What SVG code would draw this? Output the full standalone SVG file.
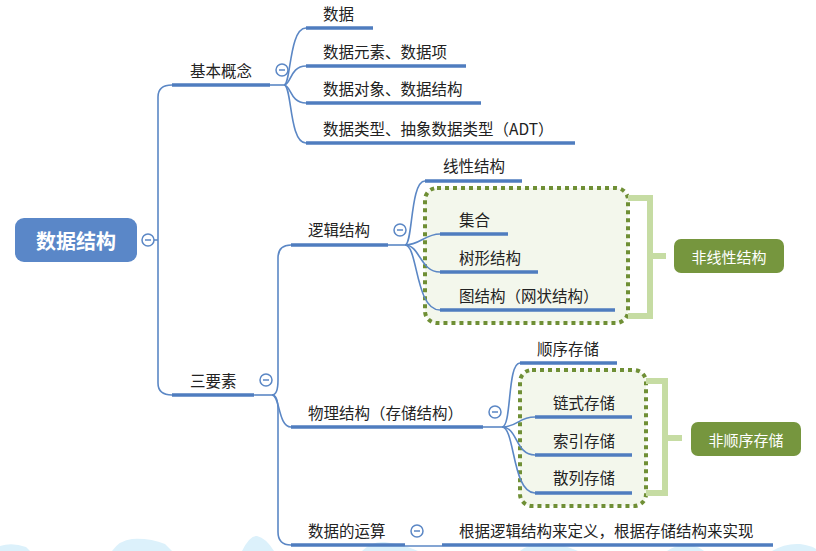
<svg xmlns="http://www.w3.org/2000/svg" width="816" height="551" viewBox="0 0 816 551">
<style>
text{font-family:"Noto Sans CJK SC","Noto Sans",sans-serif;font-size:15.5px;fill:#222;dominant-baseline:central}
.ul{stroke:#4f7dbf;stroke-width:3.5;fill:none}
.cn{stroke:#5b87c5;stroke-width:1.6;fill:none}
.tog circle{fill:#fff;stroke:#5b87c5;stroke-width:1.5}
.tog line{stroke:#5b87c5;stroke-width:1.5}
.box{fill:#f3f7ec;stroke:#6f8f35;stroke-width:4;stroke-dasharray:4 4}
.br{stroke:#c6dca3;stroke-width:6;fill:none}
.gn{fill:#76963e}
.gt{fill:#fff;font-size:15px}
.cloud{fill:#dcf1fb}
</style>
<defs>
<g id="tg" class="tog"><circle r="6"/><line x1="-3" y1="0" x2="3" y2="0"/></g>
</defs>

<g id="watermark">
<path class="cloud" d="M0,551 L0,546 Q12,542 26,547 L30,551Z"/>
<path class="cloud" d="M112,551 Q120,540 132,539 Q150,538 165,544 L172,551Z"/>
<path class="cloud" d="M242,551 Q250,535 257,536 Q266,538 274,551Z"/>
<path class="cloud" d="M362,551 Q372,541 385,542 Q405,545 418,551Z"/>
<path class="cloud" d="M520,551 Q530,543 548,543 Q565,545 578,551Z"/>
<path class="cloud" d="M667,551 Q676,544 690,545 Q700,547 704,551Z"/>
<path class="cloud" d="M772,551 Q785,543 800,544 Q812,546 816,549 L816,551Z"/>
</g>

<g id="groups">
<g id="box-logic"><rect class="box" x="425" y="188" width="203" height="135" rx="12"/></g>
<g id="box-phys"><rect class="box" x="520" y="370" width="126" height="136" rx="12"/></g>
<g id="bracket-logic"><path class="br" d="M628,198 L650,198 L650,316 L628,316 M650,256 L666,256"/></g>
<g id="bracket-phys"><path class="br" d="M646,381 L665,381 L665,493 L646,493 M665,438 L682,438"/></g>
</g>

<g id="connectors">
<path class="cn" d="M154,240 L158,240 M158,240 L158,97 Q158,85 172,85 M158,240 L158,383 Q158,395 172,395"/>
<path class="cn" d="M270,85 L284,85"/>
<path class="cn" d="M284,85 C291,85 289,28 306,28"/>
<path class="cn" d="M284,85 C291,85 290,66 306,66"/>
<path class="cn" d="M284,85 C291,85 290,103 306,103"/>
<path class="cn" d="M284,85 C292,85 289,143 306,143"/>
<path class="cn" d="M254,395 L272,395"/>
<path class="cn" d="M272,395 Q278,395 278,380 L278,258 Q278,245 291,245"/>
<path class="cn" d="M272,395 C280,395 278,427 291,427"/>
<path class="cn" d="M272,395 Q278,395 278,410 L278,532 Q278,545 291,545"/>
<path class="cn" d="M388,245 L405,245"/>
<path class="cn" d="M405,245 C413,245 410,181 425,181"/>
<path class="cn" d="M405,245 C420,245 425,234 440,234"/>
<path class="cn" d="M405,245 C420,245 420,272 440,272"/>
<path class="cn" d="M405,245 C418,245 415,310 440,310"/>
<path class="cn" d="M483,427 L502,427"/>
<path class="cn" d="M502,427 C512,427 507,363 520,363"/>
<path class="cn" d="M502,427 C518,427 518,417 535,417"/>
<path class="cn" d="M502,427 C518,427 515,455 535,455"/>
<path class="cn" d="M502,427 C515,427 512,493 535,493"/>
<path class="cn" d="M405,546 L442,546"/>
</g>

<g id="root">
<rect x="15" y="218" width="122" height="44" rx="9" fill="#5a87c8"/>
<text x="76" y="240" text-anchor="middle" style="fill:#fff;font-size:20px;font-weight:bold">数据结构</text>
<use href="#tg" x="148" y="240"/>
</g>

<g id="n-jbgn">
<path class="ul" d="M172,85 L270,85"/>
<text x="190" y="70">基本概念</text>
<use href="#tg" x="282" y="70"/>
</g>
<g id="n-sj"><path class="ul" d="M306,28 L373,28"/><text x="323" y="13">数据</text></g>
<g id="n-sjys"><path class="ul" d="M306,66 L466,66"/><text x="323" y="51">数据元素、数据项</text></g>
<g id="n-sjdx"><path class="ul" d="M306,103 L481,103"/><text x="323" y="88">数据对象、数据结构</text></g>
<g id="n-sjlx"><path class="ul" d="M306,143 L575,143"/><text x="323" y="128">数据类型、抽象数据类型（ADT）</text></g>

<g id="n-sys">
<path class="ul" d="M172,395 L254,395"/>
<text x="190" y="380">三要素</text>
<use href="#tg" x="266" y="380"/>
</g>

<g id="n-ljjg">
<path class="ul" d="M291,245 L388,245"/>
<text x="308" y="229">逻辑结构</text>
<use href="#tg" x="400" y="230"/>
</g>
<g id="n-xxjg"><path class="ul" d="M425,181 L522,181"/><text x="443" y="165">线性结构</text></g>
<g id="n-jh"><path class="ul" d="M440,234 L508,234"/><text x="459" y="219">集合</text></g>
<g id="n-sxjg"><path class="ul" d="M440,272 L538,272"/><text x="459" y="257">树形结构</text></g>
<g id="n-tjg"><path class="ul" d="M440,310 L615,310"/><text x="459" y="295">图结构（网状结构）</text></g>
<g id="n-fxxjg">
<rect class="gn" x="674" y="239" width="110" height="34" rx="7"/>
<text class="gt" x="729" y="256" text-anchor="middle">非线性结构</text>
</g>

<g id="n-wljg">
<path class="ul" d="M291,427 L483,427"/>
<text x="308" y="412">物理结构（存储结构）</text>
<use href="#tg" x="495" y="412"/>
</g>
<g id="n-sxcc"><path class="ul" d="M520,363 L617,363"/><text x="537" y="348">顺序存储</text></g>
<g id="n-lscc"><path class="ul" d="M535,417 L632,417"/><text x="553" y="402">链式存储</text></g>
<g id="n-sycc"><path class="ul" d="M535,455 L632,455"/><text x="553" y="440">索引存储</text></g>
<g id="n-slcc"><path class="ul" d="M535,493 L632,493"/><text x="553" y="477">散列存储</text></g>
<g id="n-fsxcc">
<rect class="gn" x="691" y="422" width="110" height="34" rx="7"/>
<text class="gt" x="746" y="439" text-anchor="middle">非顺序存储</text>
</g>

<g id="n-sjdys">
<path class="ul" d="M291,545 L405,545"/>
<text x="308" y="530">数据的运算</text>
<use href="#tg" x="417" y="531"/>
</g>
<g id="n-gj">
<path class="ul" d="M442,545 L773,545"/>
<text x="459" y="530">根据逻辑结构来定义，根据存储结构来实现</text>
</g>
</svg>
